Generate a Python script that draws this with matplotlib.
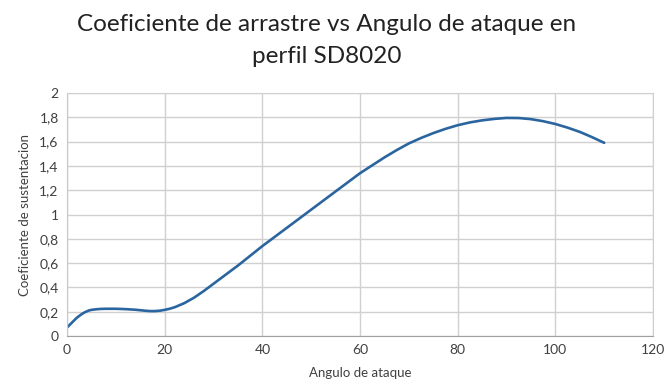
import matplotlib
matplotlib.use("Agg")
import matplotlib.pyplot as plt
from matplotlib.ticker import FuncFormatter

angle = [0, 0.5, 1, 1.5, 2, 2.5, 3, 3.5, 4, 4.5, 5, 6, 7, 8, 10, 12, 14, 15,
         16, 17, 18, 19, 20, 21, 22, 24, 26, 28, 30, 32.5, 35, 37.5, 40, 42.5,
         45, 50, 55, 60, 62.5, 65, 67.5, 70, 72.5, 75, 77.5, 80, 82.5, 85, 87.5,
         90, 92.5, 95, 97.5, 100, 102.5, 105, 107.5, 110]
coef = [0.07, 0.09, 0.11, 0.13, 0.15, 0.165, 0.18, 0.192, 0.202, 0.21, 0.215,
        0.22, 0.223, 0.224, 0.224, 0.221, 0.216, 0.212, 0.208, 0.205, 0.205,
        0.208, 0.215, 0.224, 0.236, 0.27, 0.315, 0.37, 0.43, 0.505, 0.58,
        0.66, 0.74, 0.815, 0.89, 1.04, 1.19, 1.34, 1.405, 1.47, 1.53, 1.585,
        1.63, 1.67, 1.705, 1.735, 1.758, 1.775, 1.787, 1.795, 1.794, 1.785,
        1.768, 1.745, 1.715, 1.68, 1.637, 1.59]
x_ticks = [0, 20, 40, 60, 80, 100, 120]
y_ticks = [0, 0.2, 0.4, 0.6, 0.8, 1.0, 1.2, 1.4, 1.6, 1.8, 2.0]

plt.rcParams['font.family'] = ['Lato', 'DejaVu Sans']

fig = plt.figure(figsize=(6.65, 3.9), dpi=100)
ax = fig.add_axes([0.1008, 0.1385, 0.8812, 0.623])
ax.plot(angle, coef, color='#2a65a0', lw=1.9, solid_capstyle='round',
        solid_joinstyle='round')
ax.set_xlim(0, 120)
ax.set_ylim(0, 2)
ax.set_xticks(x_ticks)
ax.set_yticks(y_ticks)

def fmt(v, pos):
    s = ('%.1f' % v).rstrip('0').rstrip('.')
    return s.replace('.', ',')
ax.yaxis.set_major_formatter(FuncFormatter(fmt))
ax.grid(True, color='#d0d0d0', lw=1.0)
ax.set_axisbelow(True)
ax.tick_params(length=0, labelsize=10, colors='#404040', pad=6)
for s in ['top', 'right']:
    ax.spines[s].set_color('#d0d0d0')
ax.spines['left'].set_color('#c8c8c8')
ax.spines['bottom'].set_color('#a0a0a0')

ax.set_xlabel('Angulo de ataque', fontsize=9.5, color='#404040', labelpad=8)
ax.set_ylabel('Coeficiente de sustentacion', fontsize=9.5, color='#404040', labelpad=6)
fig.text(0.491, 0.937, 'Coeficiente de arrastre vs Angulo de ataque en',
         ha='center', va='center', fontsize=17.5, color='#222222')
fig.text(0.491, 0.855, 'perfil SD8020', ha='center', va='center',
         fontsize=17.5, color='#222222')

fig.savefig('out.png', dpi=100)
